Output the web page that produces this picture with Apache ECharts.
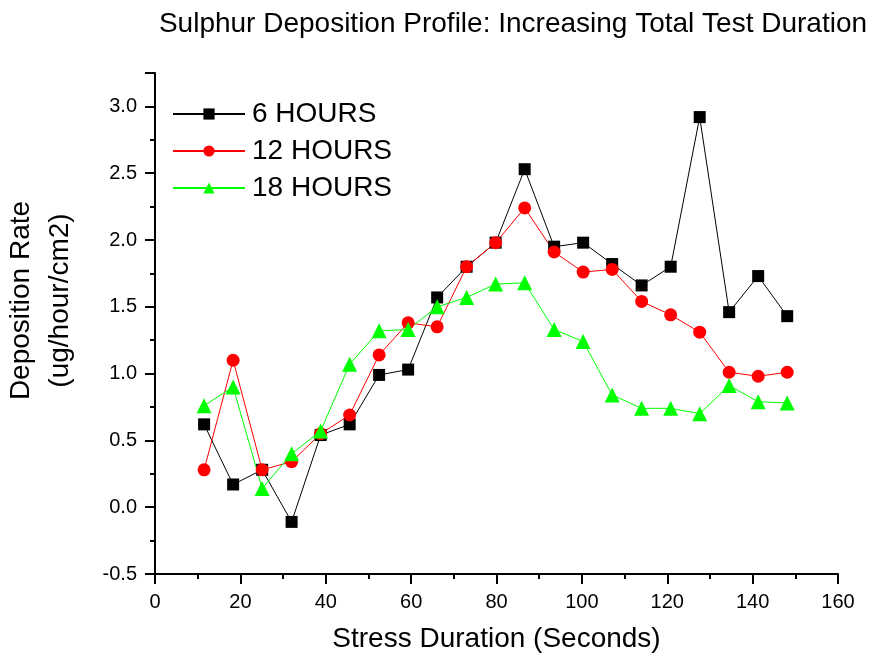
<!DOCTYPE html>
<html>
<head>
    <meta http-equiv="Content-Type" content="text/html; charset=utf-8">
    <title>Sulphur Deposition Profile</title>
    <style>
        html, body { margin: 0; padding: 0; background: #fff; }
        #echarts_main { width: 877px; height: 658px; }
    </style>
</head>
<body>
    <div id="echarts_main"></div>
    <script src="https://cdn.jsdelivr.net/npm/echarts@6/dist/echarts.min.js"></script>
    <script>
        // stress duration (seconds)
        var stress_x = [11.5, 18.3, 25.1, 32.0, 38.8, 45.6, 52.5, 59.3, 66.1, 73.0, 79.8,
                        86.6, 93.5, 100.3, 107.1, 114.0, 120.8, 127.6, 134.5, 141.3, 148.1];
        // deposition rate per test duration
        var hours_6 = [0.62, 0.17, 0.28, -0.11, 0.54, 0.62, 0.99, 1.03, 1.57, 1.80, 1.98,
                       2.53, 1.95, 1.98, 1.82, 1.66, 1.80, 2.92, 1.46, 1.73, 1.43];
        var hours_12 = [0.28, 1.10, 0.28, 0.34, 0.55, 0.69, 1.14, 1.38, 1.35, 1.80, 1.98,
                        2.24, 1.91, 1.76, 1.78, 1.54, 1.44, 1.31, 1.01, 0.98, 1.01];
        var hours_18 = [0.76, 0.90, 0.14, 0.40, 0.57, 1.07, 1.32, 1.33, 1.50, 1.57, 1.67,
                        1.68, 1.33, 1.24, 0.84, 0.74, 0.74, 0.70, 0.91, 0.79, 0.78];
        var series_names = ['6 HOURS', '12 HOURS', '18 HOURS'];

        function pairs(ys) {
            var out = [];
            for (var i = 0; i < stress_x.length; i++) {
                out.push([stress_x[i], ys[i]]);
            }
            return out;
        }

        function lineSeries(name, ys, color, symbol, size) {
            return {
                name: name,
                type: 'line',
                data: pairs(ys),
                symbol: symbol,
                symbolSize: size,
                showAllSymbol: true,
                lineStyle: { color: color, width: 1 },
                itemStyle: { color: color },
                emphasis: { disabled: true },
                animation: false
            };
        }

        var myChart = echarts.init(document.getElementById('echarts_main'));
        var fontName = '"Liberation Sans", Arial, sans-serif';
        var axisColor = '#000';

        var option = {
            backgroundColor: '#fff',
            textStyle: { fontFamily: fontName },
            title: {
                text: 'Sulphur Deposition Profile: Increasing Total Test Duration',
                left: 508,
                textAlign: 'center',
                top: 5,
                textStyle: { fontSize: 28, fontWeight: 'normal', color: '#000', fontFamily: fontName }
            },
            legend: {
                left: 167,
                top: 95,
                orient: 'vertical',
                itemWidth: 72,
                itemHeight: 14,
                itemGap: 9,
                data: series_names,
                textStyle: { fontSize: 28, color: '#000', fontFamily: fontName, padding: [0, 0, 0, 2] }
            },
            grid: { left: 155, right: 39, top: 73, bottom: 84, outerBoundsMode: 'none' },
            xAxis: {
                type: 'value',
                min: 0,
                max: 160,
                interval: 20,
                name: 'Stress Duration (Seconds)',
                nameLocation: 'middle',
                nameGap: 51,
                nameTextStyle: { fontSize: 28, color: '#000' },
                axisLine: { onZero: false, lineStyle: { color: axisColor, width: 2 } },
                axisTick: { length: 10, lineStyle: { color: axisColor, width: 2 } },
                minorTick: { show: true, splitNumber: 2, length: 5, lineStyle: { color: axisColor, width: 2 } },
                axisLabel: { fontSize: 20, color: '#000', margin: 18 },
                splitLine: { show: false }
            },
            yAxis: {
                type: 'value',
                min: -0.5,
                max: 3.25,
                interval: 0.5,
                name: 'Deposition Rate\n(ug/hour/cm2)',
                nameLocation: 'middle',
                nameGap: 75,
                nameTextStyle: { fontSize: 28, color: '#000', lineHeight: 39, padding: [0, 0, 0, 46] },
                axisLine: { lineStyle: { color: axisColor, width: 2 } },
                axisTick: { length: 10, lineStyle: { color: axisColor, width: 2 } },
                minorTick: { show: true, splitNumber: 2, length: 5, lineStyle: { color: axisColor, width: 2 } },
                axisLabel: {
                    fontSize: 20, color: '#000', margin: 18, showMaxLabel: false,
                    formatter: function (v) { return v.toFixed(1); }
                },
                splitLine: { show: false }
            },
            series: [
                lineSeries(series_names[0], hours_6, '#000000', 'rect', 12),
                lineSeries(series_names[1], hours_12, '#ff0000', 'circle', 13),
                lineSeries(series_names[2], hours_18, '#00ff00', 'triangle', 15)
            ]
        };

        myChart.setOption(option);
    </script>
</body>
</html>
